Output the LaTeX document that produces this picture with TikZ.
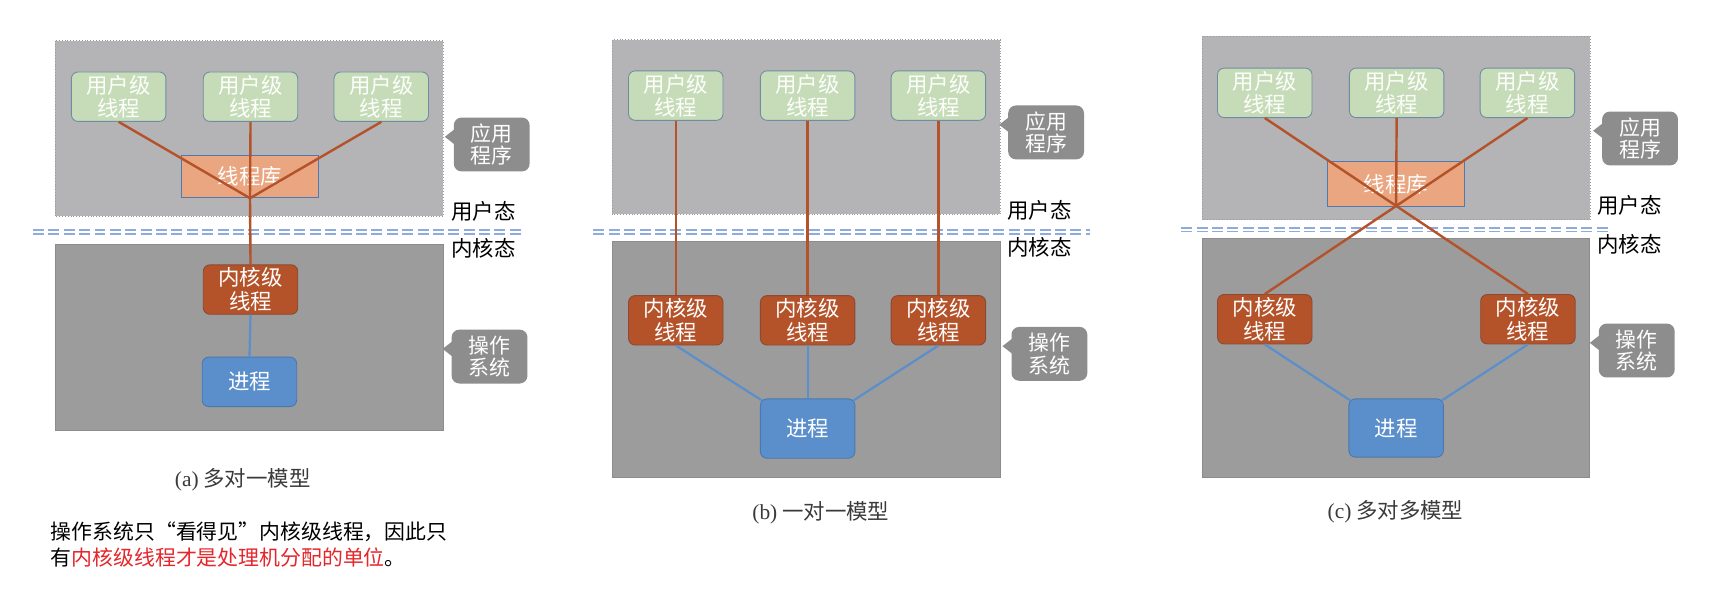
\documentclass[tikz,border=0pt]{standalone}
\usepackage{fontspec}
\setmainfont{Noto Sans CJK SC}
\newfontfamily\capserif{Liberation Serif}
\usetikzlibrary{calc}
\definecolor{topbg}{HTML}{B4B4B6}
\definecolor{botbg}{HTML}{9C9C9C}
\definecolor{ugreen}{HTML}{C6DCB8}
\definecolor{uborder}{HTML}{6F8CA3}
\definecolor{libfill}{HTML}{E9A680}
\definecolor{libborder}{HTML}{4F79B0}
\definecolor{kfill}{HTML}{B4522A}
\definecolor{kborder}{HTML}{8A4A33}
\definecolor{pfill}{HTML}{5B8FCB}
\definecolor{pborder}{HTML}{4A78AE}
\definecolor{calloutc}{HTML}{8D8D8D}
\definecolor{sepblue}{HTML}{8FAADC}
\definecolor{notered}{HTML}{E5262B}
\definecolor{captext}{HTML}{3A3A3A}
\tikzset{
  box/.style={rounded corners=6pt, minimum width=86pt, minimum height=45pt, inner sep=0pt, align=center, font=\fontsize{19.5}{21.5}\selectfont, text=white, line width=0.8pt},
  uthread/.style={box, fill=ugreen, draw=uborder, text=white!96!ugreen},
  kthread/.style={box, fill=kfill, draw=kborder},
  proc/.style={box, fill=pfill, draw=pborder},
  libbox/.style={minimum width=125pt, minimum height=39pt, inner sep=0pt, fill=libfill, draw=libborder, line width=0.7pt, text=white, font=\fontsize{19.5}{22}\selectfont},
  callout/.style={rounded corners=7pt, fill=calloutc, minimum width=69pt, minimum height=49pt, inner sep=0pt, text=white, align=center, font=\fontsize{19}{20.5}\selectfont},
  bline/.style={draw=kfill, line width=2.2pt},
  pline/.style={draw=pfill, line width=2pt},
  modetext/.style={font=\fontsize{19.5}{22}\selectfont, inner sep=0pt},
  sepline/.style={draw=sepblue, line width=1.5pt, dash pattern=on 10pt off 4pt},
  captxt/.style={font=\fontsize{19.5}{22}\selectfont, text=captext, inner sep=0pt},
  topregion/.style={fill=topbg, draw=gray!80, dotted, line width=0.6pt},
  botregion/.style={fill=botbg, draw=gray!90, line width=0.5pt}
}
\newcommand{\pointer}[1]{\fill[calloutc] ($(#1.west)+(1,-14)$) -- ($(#1.west)+(-8,-7)$) -- ($(#1.west)+(1,0)$) -- cycle;}
\begin{document}
\begin{tikzpicture}[x=1pt,y=-1pt]
\useasboundingbox[fill=white] (0,0) rectangle (1568,539);

% ================= (a) =================
\draw[topregion] (50,37) rectangle (403,197);
\draw[botregion] (50,222) rectangle (403,392);
\coordinate (a-s1) at (30,211);
\coordinate (a-s2) at (475,211);
\draw[sepline] ($(a-s1)+(0,-1.8)$) -- ($(a-s2)+(0,-1.8)$);
\draw[sepline] ($(a-s1)+(0,1.8)$) -- ($(a-s2)+(0,1.8)$);

\node[uthread] (a-u1) at (108,88) {用户级\\线程};
\node[uthread] (a-u2) at (228,88) {用户级\\线程};
\node[uthread] (a-u3) at (347,88) {用户级\\线程};
\node[libbox] (a-lib) at (227.5,160.5) {线程库};
\node[kthread] (a-k) at (228,263.5) {内核级\\线程};
\node[proc] (a-p) at (227,347.5) {进程};

\draw[bline] (a-u1.south) -- (a-lib.south);
\draw[bline] (a-u2.south) -- (a-lib.south);
\draw[bline] (a-u3.south) -- (a-lib.south);
\draw[bline] (a-lib.south) -- (a-k.north);
\draw[pline] (a-k.south) -- (a-p.north);

\node[callout] (a-app) at (447.5,131.5) {应用\\程序};
\pointer{a-app}
\node[callout] (a-os) at (445.5,324.5) {操作\\系统};
\pointer{a-os}
\node[modetext] (a-user) at (440,192) {用户态};
\node[modetext] (a-kern) at (440,226) {内核态};
\node[captxt] (a-cap) at (221,437) {{\capserif (a)} 多对一模型};
\node[anchor=west, align=left, inner sep=0pt, font=\fontsize{19}{23}\selectfont] (note) at (46,495.5) {操作系统只“看得见”内核级线程，因此只\\有\textcolor{notered}{内核级线程才是处理机分配的单位}。};

% ================= (b) =================
\draw[topregion] (557,36) rectangle (910,195);
\draw[botregion] (557,220) rectangle (910,434);
\coordinate (b-s1) at (540,211);
\coordinate (b-s2) at (992,211);
\draw[sepline] ($(b-s1)+(0,-1.8)$) -- ($(b-s2)+(0,-1.8)$);
\draw[sepline] ($(b-s1)+(0,1.8)$) -- ($(b-s2)+(0,1.8)$);

\node[uthread] (b-u1) at (615,87) {用户级\\线程};
\node[uthread] (b-u2) at (735,87) {用户级\\线程};
\node[uthread] (b-u3) at (854,87) {用户级\\线程};
\node[kthread] (b-k1) at (615,291.5) {内核级\\线程};
\node[kthread] (b-k2) at (735,291.5) {内核级\\线程};
\node[kthread] (b-k3) at (854,291.5) {内核级\\线程};
\node[proc, minimum height=54pt] (b-p) at (735,390) {进程};

\draw[bline] (b-u1.south) -- (b-k1.north);
\draw[bline] (b-u2.south) -- (b-k2.north);
\draw[bline] (b-u3.south) -- (b-k3.north);
\draw[pline] (b-k1.south) -- ($(b-p.north west)+(2,2)$);
\draw[pline] (b-k2.south) -- (b-p.north);
\draw[pline] (b-k3.south) -- ($(b-p.north east)+(-2,2)$);

\node[callout] (b-app) at (952,120.5) {应用\\程序};
\pointer{b-app}
\node[callout] (b-os) at (955,322) {操作\\系统};
\pointer{b-os}
\node[modetext] (b-user) at (946,191) {用户态};
\node[modetext] (b-kern) at (946,225) {内核态};
\node[captxt] (b-cap) at (747,467) {{\capserif (b)} 一对一模型};

% ================= (c) =================
\draw[topregion] (1094,33) rectangle (1447,200);
\draw[botregion] (1094,217) rectangle (1446,434);
\coordinate (c-s1) at (1075,209);
\coordinate (c-s2) at (1463,209);
\draw[sepline] ($(c-s1)+(0,-1.8)$) -- ($(c-s2)+(0,-1.8)$);
\draw[sepline] ($(c-s1)+(0,1.8)$) -- ($(c-s2)+(0,1.8)$);

\node[uthread] (c-u1) at (1151,84.5) {用户级\\线程};
\node[uthread] (c-u2) at (1271,84.5) {用户级\\线程};
\node[uthread] (c-u3) at (1390,84.5) {用户级\\线程};
\node[libbox, minimum height=41pt] (c-lib) at (1270.5,167.5) {线程库};
\node[kthread] (c-k1) at (1151,290.5) {内核级\\线程};
\node[kthread] (c-k2) at (1390.5,290.5) {内核级\\线程};
\node[proc, minimum height=53pt] (c-p) at (1270.5,389.5) {进程};

\draw[bline] (c-u1.south) -- (c-k2.north);
\draw[bline] (c-u3.south) -- (c-k1.north);
\draw[bline] (c-u2.south) -- (c-lib.south);
\draw[pline] (c-k1.south) -- ($(c-p.north west)+(2,2)$);
\draw[pline] (c-k2.south) -- ($(c-p.north east)+(-2,2)$);

\node[callout] (c-app) at (1492.5,126) {应用\\程序};
\pointer{c-app}
\node[callout] (c-os) at (1489.5,319) {操作\\系统};
\pointer{c-os}
\node[modetext] (c-user) at (1483,187) {用户态};
\node[modetext] (c-kern) at (1483,222) {内核态};
\node[captxt] (c-cap) at (1270,466) {{\capserif (c)} 多对多模型};
\end{tikzpicture}
\end{document}
